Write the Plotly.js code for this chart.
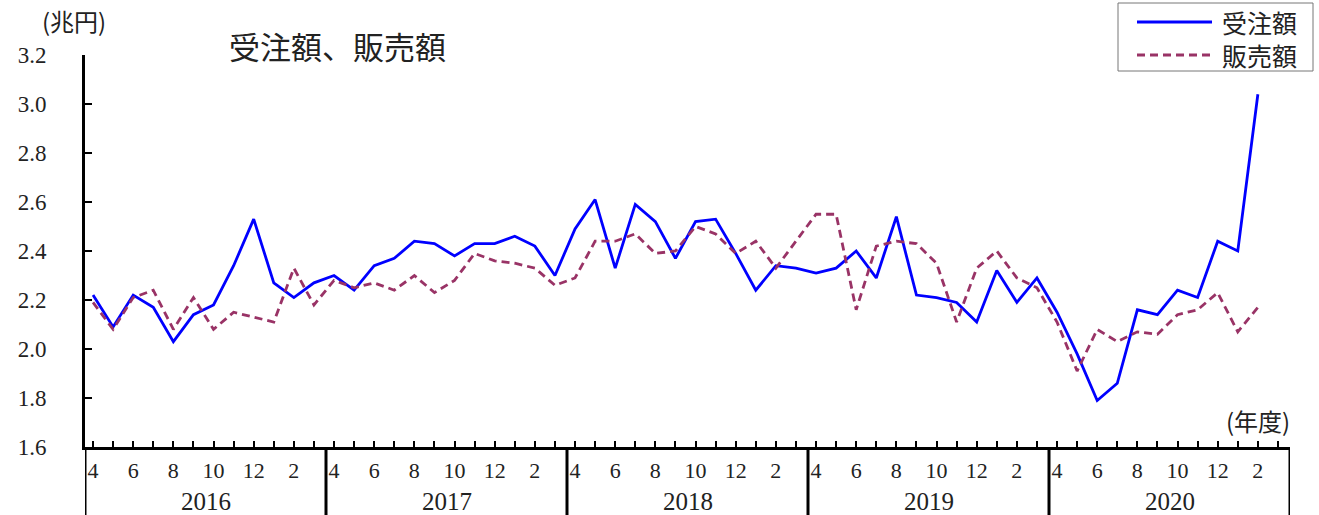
<!DOCTYPE html>
<html>
<head>
<meta charset="utf-8">
<script src="https://cdn.plot.ly/plotly-3.0.1.min.js"></script>
<style>html,body{margin:0;padding:0;background:#fff;}</style>
</head>
<body>
<div id="chart" style="width:1319px;height:515px;"></div>
<script>
// ---- data ----
const fiscalYears = ['2016', '2017', '2018', '2019', '2020'];
const monthTickLabels = ['4', '', '6', '', '8', '', '10', '', '12', '', '2', ''];
const seriesNames = ['受注額', '販売額'];
// 受注額 (trillion yen), Apr 2016 – Feb 2021
const orders = [
  2.22, 2.09, 2.22, 2.17, 2.03, 2.14, 2.18, 2.34, 2.53, 2.27, 2.21, 2.27,
  2.30, 2.24, 2.34, 2.37, 2.44, 2.43, 2.38, 2.43, 2.43, 2.46, 2.42, 2.30,
  2.49, 2.61, 2.33, 2.59, 2.52, 2.37, 2.52, 2.53, 2.39, 2.24, 2.34, 2.33,
  2.31, 2.33, 2.40, 2.29, 2.54, 2.22, 2.21, 2.19, 2.11, 2.32, 2.19, 2.29,
  2.15, 1.98, 1.79, 1.86, 2.16, 2.14, 2.24, 2.21, 2.44, 2.40, 3.04
];
// 販売額 (trillion yen)
const sales = [
  2.19, 2.08, 2.21, 2.24, 2.08, 2.21, 2.08, 2.15, 2.13, 2.11, 2.33, 2.18,
  2.28, 2.25, 2.27, 2.24, 2.30, 2.23, 2.28, 2.39, 2.36, 2.35, 2.33, 2.26,
  2.29, 2.44, 2.44, 2.47, 2.39, 2.40, 2.50, 2.47, 2.39, 2.44, 2.33, 2.44,
  2.55, 2.55, 2.16, 2.42, 2.44, 2.43, 2.35, 2.11, 2.33, 2.40, 2.29, 2.25,
  2.11, 1.91, 2.08, 2.03, 2.07, 2.06, 2.14, 2.16, 2.23, 2.07, 2.17
];
const yTicks = [1.6, 1.8, 2.0, 2.2, 2.4, 2.6, 2.8, 3.0, 3.2];
const yTickLabels = ['1.6', '1.8', '2.0', '2.2', '2.4', '2.6', '2.8', '3.0', '3.2'];

// ---- geometry helpers ----
const W = 1319, H = 515;
const L = 85, R = 1290, T = 55, B = 447;
const px2x = p => (p - L) / (R - L);
const py2y = p => (B - p) / (B - T);

const nMonths = fiscalYears.length * 12;
const idx = orders.map((_, i) => i);
const tickVals = Array.from({length: nMonths}, (_, i) => i);
const tickText = tickVals.map(i => monthTickLabels[i % 12]);

const serif = 'Liberation Serif, "Noto Sans CJK JP", serif';
const jp = '"Noto Sans CJK JP", sans-serif';
const textColor = '#222';
const blue = '#0000FF';
const plum = '#993366';

const traces = [
  {x: idx, y: orders, name: seriesNames[0], type: 'scatter', mode: 'lines',
   line: {color: blue, width: 2.8}, showlegend: false},
  {x: idx, y: sales, name: seriesNames[1], type: 'scatter', mode: 'lines',
   line: {color: plum, width: 2.8, dash: '8px,5px'}, showlegend: false}
];

const shapes = [];
// year dividers below the x-axis
for (let k = 0; k <= fiscalYears.length; k++) {
  shapes.push({type: 'line', xref: 'x', yref: 'paper',
    x0: 12 * k - 0.4, x1: 12 * k - 0.4, y0: 0, y1: py2y(H + 2),
    line: {color: '#000', width: 3}});
}
// legend box and samples
shapes.push({type: 'rect', xref: 'paper', yref: 'paper',
  x0: px2x(1118), x1: px2x(1313), y0: py2y(71), y1: py2y(3),
  line: {color: '#777', width: 1}, fillcolor: 'rgba(0,0,0,0)'});
shapes.push({type: 'line', xref: 'paper', yref: 'paper',
  x0: px2x(1137), x1: px2x(1212), y0: py2y(22), y1: py2y(22),
  line: {color: blue, width: 2.8}});
shapes.push({type: 'line', xref: 'paper', yref: 'paper',
  x0: px2x(1137), x1: px2x(1212), y0: py2y(55), y1: py2y(55),
  line: {color: plum, width: 2.8, dash: '8px,5px'}});

const annotations = [];
fiscalYears.forEach((fy, k) => {
  annotations.push({text: fy, xref: 'x', yref: 'paper', x: 12 * k + 5.6, y: py2y(501),
    xanchor: 'center', yanchor: 'middle', showarrow: false,
    font: {family: serif, size: 25, color: textColor}});
});
annotations.push({text: '受注額、販売額', xref: 'paper', yref: 'paper',
  x: px2x(227), y: py2y(45), xanchor: 'left', yanchor: 'middle', showarrow: false,
  font: {family: jp, size: 31, color: textColor}});
annotations.push({text: '(兆円)', xref: 'paper', yref: 'paper',
  x: px2x(74), y: py2y(20), xanchor: 'center', yanchor: 'middle', showarrow: false,
  font: {family: jp, size: 24, color: textColor}});
annotations.push({text: '(年度)', xref: 'paper', yref: 'paper',
  x: px2x(1292), y: py2y(420), xanchor: 'right', yanchor: 'middle', showarrow: false,
  font: {family: jp, size: 24, color: textColor}});
seriesNames.forEach((nm, i) => {
  annotations.push({text: nm, xref: 'paper', yref: 'paper',
    x: px2x(1220), y: py2y(i === 0 ? 22 : 55), xanchor: 'left', yanchor: 'middle', showarrow: false,
    font: {family: jp, size: 25, color: textColor}});
});

const layout = {
  width: W, height: H,
  margin: {l: L, r: W - R, t: T, b: H - B, pad: 0},
  paper_bgcolor: '#fff', plot_bgcolor: '#fff',
  showlegend: false,
  xaxis: {
    range: [-0.4, nMonths - 0.4], showgrid: false, zeroline: false,
    showline: true, linecolor: '#000', linewidth: 3,
    ticks: 'inside', ticklen: 6, tickwidth: 2, tickcolor: '#000',
    tickmode: 'array', tickvals: tickVals, ticktext: tickText,
    tickfont: {family: serif, size: 22, color: textColor},
    ticklabelstandoff: 2, fixedrange: true
  },
  yaxis: {
    range: [1.6, 3.2], showgrid: false, zeroline: false,
    showline: true, linecolor: '#000', linewidth: 3,
    ticks: 'inside', ticklen: 7, tickwidth: 2, tickcolor: '#000',
    tickmode: 'array', tickvals: yTicks, ticktext: yTickLabels,
    tickfont: {family: serif, size: 23, color: textColor},
    ticklabelstandoff: 31, fixedrange: true
  },
  shapes: shapes,
  annotations: annotations
};

Plotly.newPlot('chart', traces, layout, {staticPlot: true, displayModeBar: false});
</script>
</body>
</html>
